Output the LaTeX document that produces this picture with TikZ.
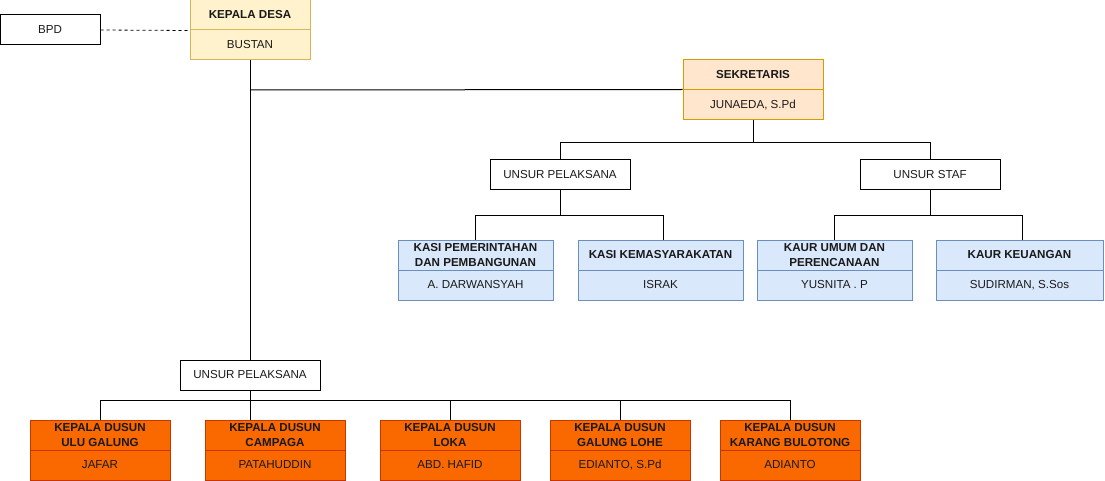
\documentclass[tikz,border=0pt]{standalone}
\usepackage{fontspec}
\setmainfont{Liberation Sans}
\definecolor{yfill}{HTML}{FFF2CC}
\definecolor{ydraw}{HTML}{D6B656}
\definecolor{ofill}{HTML}{FFE6CC}
\definecolor{odraw}{HTML}{D79B00}
\definecolor{bfill}{HTML}{DAE8FC}
\definecolor{bdraw}{HTML}{6C8EBF}
\definecolor{rfill}{HTML}{FA6800}
\definecolor{rdraw}{HTML}{C73500}
\definecolor{txt}{HTML}{1A1A1A}
\begin{document}
\begin{tikzpicture}[x=1pt,y=-1pt,
  box/.style={draw, line width=1pt, minimum height=30pt, inner sep=0pt, align=center, text=txt,
    font=\fontsize{11.6}{14.5}\selectfont},
  ttl/.style={box, font=\fontsize{11.6}{14.5}\selectfont\bfseries},
  plain/.style={box, fill=white, draw=black},
  yel/.style={fill=yfill, draw=ydraw, minimum width=120pt},
  sek/.style={fill=ofill, draw=odraw, minimum width=140pt},
  blu/.style={fill=bfill, draw=bdraw},
  org/.style={fill=rfill, draw=rdraw, minimum width=140pt},
  conn/.style={draw=black, line width=1pt}]
\useasboundingbox (0,0) rectangle (1105,481);

% top
\node[plain, minimum width=100pt] (bpd) at (50,30) {BPD};
\node[ttl, yel] (kdT) at (250,15) {KEPALA DESA};
\node[box, yel] (kdB) at (250,45) {BUSTAN};
\node[ttl, sek] (sekT) at (753,75) {SEKRETARIS};
\node[box, sek] (sekB) at (753,105) {JUNAEDA, S.Pd};

\node[plain, minimum width=140pt] (upU) at (560,175) {UNSUR PELAKSANA};
\node[plain, minimum width=140pt] (staf) at (930,175) {UNSUR STAF};

\node[ttl, blu, minimum width=155pt] (k1T) at (475.5,255) {KASI PEMERINTAHAN\\DAN PEMBANGUNAN};
\node[box, blu, minimum width=155pt] (k1B) at (475.5,285) {A. DARWANSYAH};
\node[ttl, blu, minimum width=165pt] (k2T) at (660.5,255) {KASI KEMASYARAKATAN};
\node[box, blu, minimum width=165pt] (k2B) at (660.5,285) {ISRAK};
\node[ttl, blu, minimum width=155pt] (k3T) at (834.5,255) {KAUR UMUM DAN\\PERENCANAAN};
\node[box, blu, minimum width=155pt] (k3B) at (834.5,285) {YUSNITA . P};
\node[ttl, blu, minimum width=167pt] (k4T) at (1019.5,255) {KAUR KEUANGAN};
\node[box, blu, minimum width=167pt] (k4B) at (1019.5,285) {SUDIRMAN, S.Sos};

\node[plain, minimum width=140pt] (upL) at (250,375) {UNSUR PELAKSANA};

\node[ttl, org] (d1T) at (100,435) {KEPALA DUSUN\\ULU GALUNG};
\node[box, org] (d1B) at (100,465) {JAFAR};
\node[ttl, org] (d2T) at (275,435) {KEPALA DUSUN\\CAMPAGA};
\node[box, org] (d2B) at (275,465) {PATAHUDDIN};
\node[ttl, org] (d3T) at (450,435) {KEPALA DUSUN\\LOKA};
\node[box, org] (d3B) at (450,465) {ABD. HAFID};
\node[ttl, org] (d4T) at (620,435) {KEPALA DUSUN\\GALUNG LOHE};
\node[box, org] (d4B) at (620,465) {EDIANTO, S.Pd};
\node[ttl, org] (d5T) at (790,435) {KEPALA DUSUN\\KARANG BULOTONG};
\node[box, org] (d5B) at (790,465) {ADIANTO};

% connectors
\draw[conn, dash pattern=on 3pt off 3pt, line width=0.8pt] (bpd.east) -- (kdT.south west);
\draw[conn] (kdB.south) -- (upL.north);
\coordinate (j1) at (250,90);
\draw[conn] (j1) -- (sekB.north west);

\draw[conn] (sekB.south) -- ++(0,22) -| (upU.north);
\draw[conn] (sekB.south) -- ++(0,22) -| (staf.north);

\draw[conn] (upU.south) -- ++(0,25) -| (k1T.north);
\draw[conn] (upU.south) -- ++(0,25) -| ([xshift=2.5pt]k2T.north);
\draw[conn] (staf.south) -- ++(0,25) -| ([xshift=-0.5pt]k3T.north);
\draw[conn] (staf.south) -- ++(0,25) -| ([xshift=2.5pt]k4T.north);

\draw[conn] (upL.south) -- ++(0,10) -| (d1T.north);
\draw[conn] (upL.south) -- (upL.south |- d2T.north);
\draw[conn] (upL.south) -- ++(0,10) -| (d3T.north);
\draw[conn] (upL.south) -- ++(0,10) -| (d4T.north);
\draw[conn] (upL.south) -- ++(0,10) -| (d5T.north);
\end{tikzpicture}
\end{document}
